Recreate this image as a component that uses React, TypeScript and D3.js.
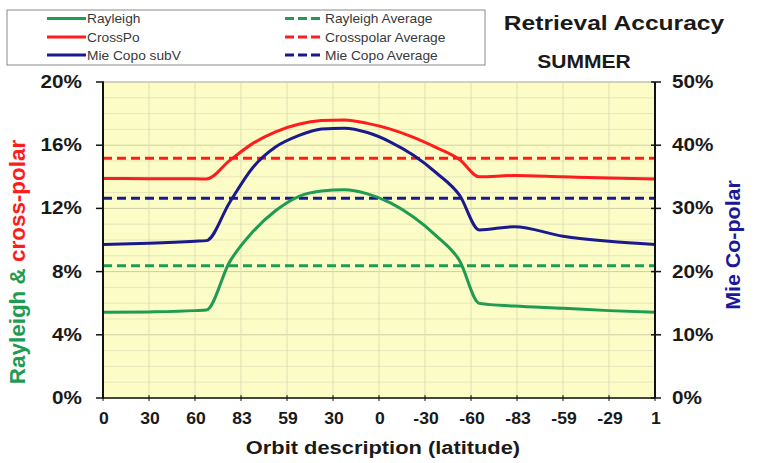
import React from "react";
import * as d3 from "d3";

// ---- data ----
const orbitPos = [0, 1, 2, 2.25, 2.75, 3.25, 3.75, 4.25, 4.75, 5.25, 5.75, 6.25, 6.75, 7.25, 7.75, 8.18, 8.94, 10, 11, 12];
const rayleigh = [5.42, 5.45, 5.53, 5.57, 8.6, 10.5, 11.85, 12.75, 13.1, 13.18, 12.92, 12.35, 11.45, 10.25, 8.7, 5.99, 5.82, 5.68, 5.53, 5.42];
const crossPo = [13.9, 13.88, 13.87, 13.86, 15.02, 16.1, 16.85, 17.33, 17.56, 17.6, 17.38, 17.02, 16.5, 15.85, 15.1, 14.0, 14.08, 14.0, 13.93, 13.86];
const mieCopo = [24.3, 24.5, 24.8, 24.9, 30.9, 36.4, 39.7, 41.5, 42.55, 42.7, 42.0, 40.5, 38.4, 35.6, 32.1, 26.6, 27.1, 25.6, 24.8, 24.3];

const rayleighAvg = 8.37;
const crossAvg = 15.17;
const mieAvg = 31.6;

const xLabels = ["0", "30", "60", "83", "59", "30", "0", "-30", "-60", "-83", "-59", "-29", "1"];
const leftTicks = [0, 4, 8, 12, 16, 20];
const rightTicks = [0, 10, 20, 30, 40, 50];

const GREEN = "#1f9b52";
const RED = "#ff1c1c";
const BLUE = "#1a1a8c";

const legendItems = [
  { label: "Rayleigh", color: GREEN, dash: null, col: 0, row: 0 },
  { label: "CrossPo", color: RED, dash: null, col: 0, row: 1 },
  { label: "Mie Copo subV", color: BLUE, dash: null, col: 0, row: 2 },
  { label: "Rayleigh Average", color: GREEN, dash: "9,4", col: 1, row: 0 },
  { label: "Crosspolar Average", color: RED, dash: "9,4", col: 1, row: 1 },
  { label: "Mie Copo Average", color: BLUE, dash: "9,4", col: 1, row: 2 },
];

const FONT = "'Liberation Sans', Arial, sans-serif";

function T(props: any) {
  const { x, y, sx = 1.15, rotate = 0, children, ...rest } = props;
  return (
    <text
      transform={`translate(${x},${y}) rotate(${rotate}) scale(${sx},1)`}
      fontFamily={FONT}
      {...rest}
    >
      {children}
    </text>
  );
}

export default function App() {
  const W = 779;
  const H = 463;
  const x = d3.scaleLinear().domain([0, 12]).range([103, 655]);
  const yL = d3.scaleLinear().domain([0, 20]).range([398, 82]);
  const yR = d3.scaleLinear().domain([0, 50]).range([398, 82]);

  const lineL = d3
    .line<number>()
    .x((_, i) => x(orbitPos[i]))
    .y((d) => yL(d))
    .curve(d3.curveMonotoneX);
  const lineR = d3
    .line<number>()
    .x((_, i) => x(orbitPos[i]))
    .y((d) => yR(d))
    .curve(d3.curveMonotoneX);

  const minorH = d3.range(0, 20.01, 1);
  const vGrid = d3.range(0, 13, 1);

  const [x0, x1] = x.range();
  const [yb, yt] = yL.range();

  return (
    <svg
      width={W}
      height={H}
      style={{ position: "absolute", left: 0, top: 0, background: "#fff" }}
    >
      {/* plot background */}
      <rect x={x0} y={yt} width={x1 - x0} height={yb - yt} fill="#fcfcc6" />
      {minorH.map((v) => (
        <line
          key={"h" + v}
          x1={x0}
          x2={x1}
          y1={yL(v)}
          y2={yL(v)}
          stroke={v % 4 === 0 ? "#cfcfa6" : "#e6e6bb"}
          strokeWidth={1}
        />
      ))}
      {vGrid.map((v) => (
        <line
          key={"v" + v}
          x1={x(v)}
          x2={x(v)}
          y1={yt}
          y2={yb}
          stroke="#dedeb6"
          strokeWidth={1}
        />
      ))}
      <line x1={x0} x2={x1} y1={yt} y2={yt} stroke="#bdbdb0" strokeWidth={1} />

      {/* average lines */}
      <line x1={x0} x2={x1} y1={yL(rayleighAvg)} y2={yL(rayleighAvg)} stroke={GREEN} strokeWidth={3} strokeDasharray="9,5" />
      <line x1={x0} x2={x1} y1={yL(crossAvg)} y2={yL(crossAvg)} stroke={RED} strokeWidth={3} strokeDasharray="9,5" />
      <line x1={x0} x2={x1} y1={yR(mieAvg)} y2={yR(mieAvg)} stroke={BLUE} strokeWidth={3} strokeDasharray="9,5" />

      {/* series */}
      <path d={lineL(rayleigh) || ""} fill="none" stroke={GREEN} strokeWidth={3} />
      <path d={lineL(crossPo) || ""} fill="none" stroke={RED} strokeWidth={3} />
      <path d={lineR(mieCopo) || ""} fill="none" stroke={BLUE} strokeWidth={3} />

      {/* axes */}
      <line x1={x0} x2={x0} y1={yt} y2={yb} stroke="#111" strokeWidth={2} />
      <line x1={x1} x2={x1} y1={yt} y2={yb} stroke="#111" strokeWidth={2} />
      <line x1={x0} x2={x1} y1={yb} y2={yb} stroke="#111" strokeWidth={1.5} />
      {leftTicks.map((v) => (
        <g key={"lt" + v}>
          <line x1={x0 - 7} x2={x0 + 1} y1={yL(v)} y2={yL(v)} stroke="#111" strokeWidth={1.5} />
          <T x={82} y={yL(v) + 6} textAnchor="end" fontSize={18} fontWeight="bold" fill="#1a1a1a">
            {v + "%"}
          </T>
        </g>
      ))}
      {rightTicks.map((v) => (
        <g key={"rt" + v}>
          <line x1={x1 - 4} x2={x1 + 6} y1={yR(v)} y2={yR(v)} stroke="#111" strokeWidth={1.5} />
          <T x={672} y={yR(v) + 6} textAnchor="start" fontSize={18} fontWeight="bold" fill="#1a1a1a">
            {v + "%"}
          </T>
        </g>
      ))}
      {xLabels.map((lab, i) => (
        <g key={"xt" + i}>
          <line x1={x(i)} x2={x(i)} y1={yb - 3} y2={yb + 3} stroke="#111" strokeWidth={1} />
          <T x={x(i) + 1} y={424} textAnchor="middle" fontSize={16} fontWeight="bold" fill="#1a1a1a" sx={1.1}>
            {lab}
          </T>
        </g>
      ))}

      {/* axis titles */}
      <T x={383} y={454} textAnchor="middle" fontSize={19} fontWeight="bold" fill="#1a1a1a" sx={1.15}>
        Orbit description (latitude)
      </T>
      <T x={25} y={262} rotate={-90} textAnchor="middle" fontSize={22} fontWeight="bold" sx={1.02}>
        <tspan fill={GREEN}>Rayleigh &amp; </tspan>
        <tspan fill={RED}>cross-polar</tspan>
      </T>
      <T x={740} y={245} rotate={-90} textAnchor="middle" fontSize={21} fontWeight="bold" fill="#1a1a99" sx={1.02}>
        Mie Co-polar
      </T>

      {/* titles */}
      <T x={614} y={30} textAnchor="middle" fontSize={21} fontWeight="bold" fill="#1a1a1a" sx={1.17}>
        Retrieval Accuracy
      </T>
      <T x={584} y={68} textAnchor="middle" fontSize={18} fontWeight="bold" fill="#1a1a1a" sx={1.17}>
        SUMMER
      </T>

      {/* legend */}
      <rect x={7} y={10} width={478} height={55} fill="#fff" stroke="#8a8a8a" strokeWidth={1} />
      {legendItems.map((it) => {
        const lx = it.col === 0 ? 47 : 285;
        const ly = [18.5, 37, 55][it.row];
        return (
          <g key={it.label}>
            <line
              x1={lx}
              x2={lx + 39}
              y1={ly}
              y2={ly}
              stroke={it.color}
              strokeWidth={3}
              strokeDasharray={it.dash || undefined}
            />
            <T x={lx + 40} y={ly + 4.5} fontSize={12.5} fill="#3a3a3a" sx={1.1}>
              {it.label}
            </T>
          </g>
        );
      })}
    </svg>
  );
}
